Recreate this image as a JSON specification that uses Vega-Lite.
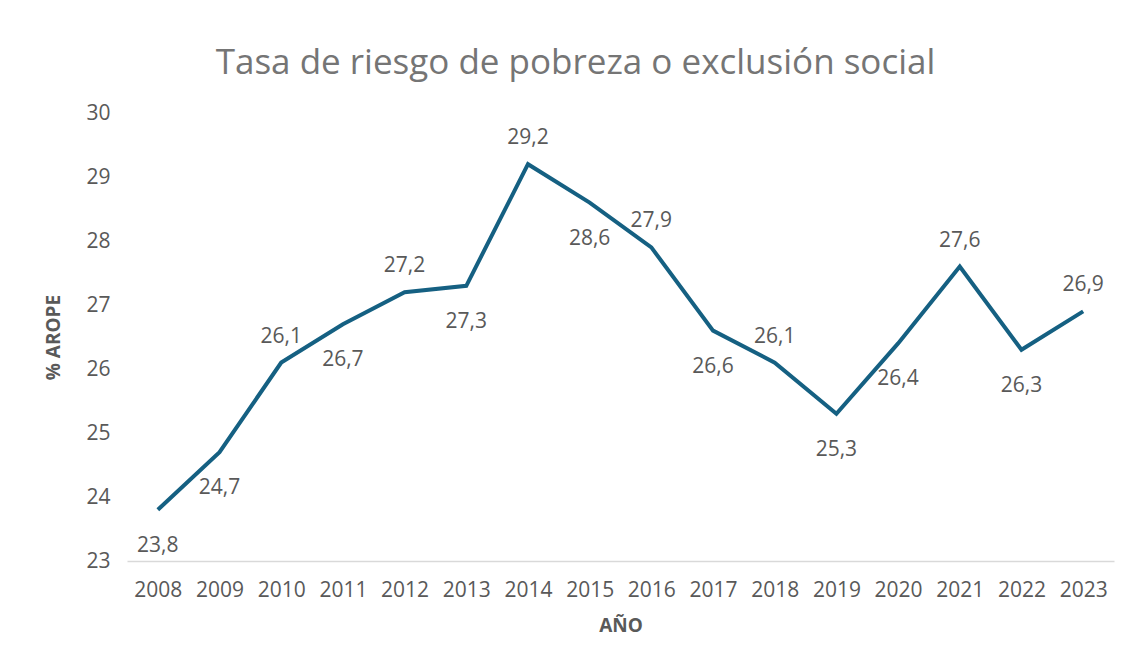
{
  "$schema": "https://vega.github.io/schema/vega-lite/v6.json",
  "width": 987,
  "height": 448,
  "autosize": {"type": "none"},
  "padding": {"left": 127, "top": 113, "right": 17, "bottom": 105},
  "background": "white",
  "title": {
    "text": "Tasa de riesgo de pobreza o exclusión social",
    "anchor": "middle",
    "frame": "group",
    "dx": -45,
    "offset": 21,
    "font": "Open Sans",
    "fontSize": 35,
    "fontWeight": 400,
    "color": "#757575"
  },
  "config": {
    "view": {"stroke": null},
    "font": "Open Sans",
    "locale": {
      "number": {"decimal": ",", "thousands": ".", "grouping": [3], "currency": ["", " €"]}
    }
  },
  "data": {
    "values": [
      {"year": "2008", "value": 23.8, "pos": "below"},
      {"year": "2009", "value": 24.7, "pos": "below"},
      {"year": "2010", "value": 26.1, "pos": "above"},
      {"year": "2011", "value": 26.7, "pos": "below"},
      {"year": "2012", "value": 27.2, "pos": "above"},
      {"year": "2013", "value": 27.3, "pos": "below"},
      {"year": "2014", "value": 29.2, "pos": "above"},
      {"year": "2015", "value": 28.6, "pos": "below"},
      {"year": "2016", "value": 27.9, "pos": "above"},
      {"year": "2017", "value": 26.6, "pos": "below"},
      {"year": "2018", "value": 26.1, "pos": "above"},
      {"year": "2019", "value": 25.3, "pos": "below"},
      {"year": "2020", "value": 26.4, "pos": "below"},
      {"year": "2021", "value": 27.6, "pos": "above"},
      {"year": "2022", "value": 26.3, "pos": "below"},
      {"year": "2023", "value": 26.9, "pos": "above"}
    ]
  },
  "encoding": {
    "x": {
      "field": "year",
      "type": "ordinal",
      "scale": {"padding": 0.5},
      "axis": {
        "title": "AÑO",
        "titleFont": "Open Sans",
        "titleFontSize": 19,
        "titleFontWeight": "bold",
        "titleColor": "#595959",
        "titlePadding": 16,
        "labelAngle": 0,
        "labelFont": "Open Sans",
        "labelFontSize": 21,
        "labelColor": "#595959",
        "labelPadding": 18,
        "ticks": false,
        "domainColor": "#D9D9D9",
        "domainWidth": 1.5,
        "grid": false
      }
    },
    "y": {
      "field": "value",
      "type": "quantitative",
      "scale": {"domain": [23, 30], "nice": false, "zero": false},
      "axis": {
        "title": "% AROPE",
        "titleFont": "Open Sans",
        "titleFontSize": 19,
        "titleFontWeight": "bold",
        "titleColor": "#595959",
        "titlePadding": 22,
        "values": [23, 24, 25, 26, 27, 28, 29, 30],
        "labelFont": "Open Sans",
        "labelFontSize": 21,
        "labelColor": "#595959",
        "labelPadding": 17,
        "ticks": false,
        "domain": false,
        "grid": false
      }
    }
  },
  "layer": [
    {
      "mark": {"type": "line", "color": "#156082", "strokeWidth": 4, "strokeJoin": "miter", "strokeCap": "butt"}
    },
    {
      "transform": [{"filter": "datum.pos === 'above'"}],
      "mark": {"type": "text", "dy": -26, "fontSize": 21, "color": "#595959", "font": "Open Sans"},
      "encoding": {"text": {"field": "value", "type": "quantitative", "format": ".1f"}}
    },
    {
      "transform": [{"filter": "datum.pos === 'below'"}],
      "mark": {"type": "text", "dy": 36, "fontSize": 21, "color": "#595959", "font": "Open Sans"},
      "encoding": {"text": {"field": "value", "type": "quantitative", "format": ".1f"}}
    }
  ]
}
